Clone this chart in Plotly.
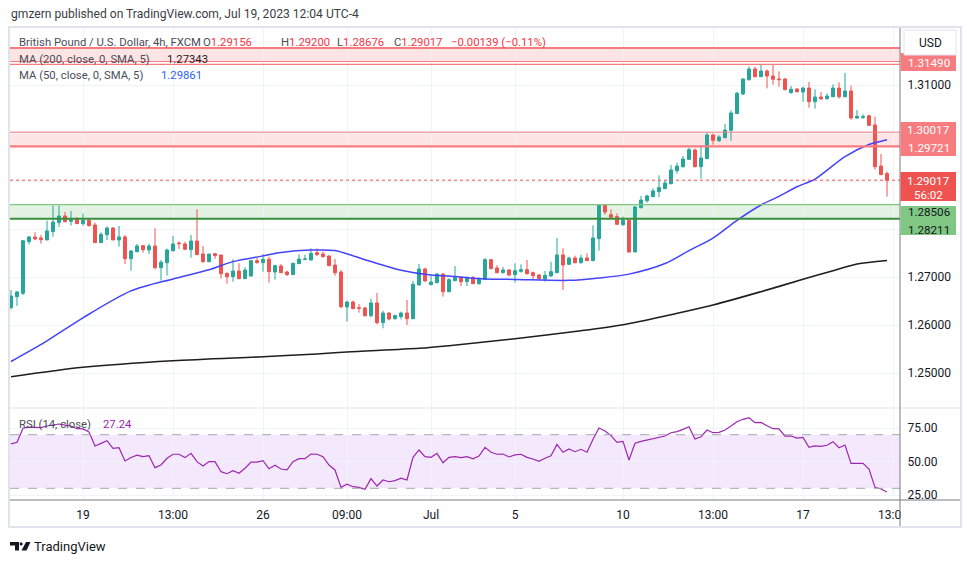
import plotly.graph_objects as go

# ---------------- data ----------------
opens = [1.26361,1.26591,1.26660,1.27736,1.27834,1.27813,1.27771,1.27945,1.28132,1.28271,
         1.28160,1.28209,1.28111,1.28181,1.28084,1.27716,1.27882,1.28021,1.27771,1.27834,
         1.27382,1.27528,1.27653,1.27563,1.27646,1.27195,1.27299,1.27549,1.27709,1.27688,
         1.27570,1.27750,1.27479,1.27320,1.27486,1.27459,1.27077,1.27007,1.27125,1.26966,
         1.27021,1.27341,1.27299,1.27368,1.27104,1.27229,1.27104,1.27049,1.27278,1.27368,
         1.27354,1.27507,1.27479,1.27438,1.27250,1.27104,1.26375,1.26479,1.26361,1.26354,
         1.26195,1.26459,1.26049,1.26250,1.26132,1.26174,1.26250,1.26132,1.26834,1.27167,
         1.26841,1.26882,1.27063,1.26695,1.26924,1.26986,1.26903,1.26986,1.26861,1.26952,
         1.27361,1.27188,1.27091,1.27146,1.27049,1.27118,1.27153,1.27091,1.27042,1.26959,
         1.27021,1.27091,1.27459,1.27264,1.27396,1.27299,1.27396,1.27341,1.27799,1.28493,
         1.28299,1.28257,1.28090,1.28181,1.27521,1.28444,1.28590,1.28674,1.28778,1.28840,
         1.28944,1.29215,1.29299,1.29451,1.29646,1.29299,1.29465,1.29958,1.29840,1.29903,
         1.30055,1.30403,1.30812,1.31111,1.31333,1.31173,1.31292,1.31187,1.31125,1.31125,
         1.30840,1.30917,1.30854,1.30937,1.30653,1.30750,1.30715,1.30757,1.30937,1.30757,
         1.30875,1.30312,1.30326,1.30361,1.30167,1.29312,1.29156]
highs = [1.26729,1.26709,1.27771,1.27854,1.27931,1.27875,1.28174,1.28486,1.28486,1.28354,
         1.28375,1.28250,1.28320,1.28209,1.28132,1.27931,1.28056,1.28035,1.28063,1.27875,
         1.27556,1.27688,1.27667,1.27688,1.28014,1.27354,1.27591,1.27854,1.27743,1.27736,
         1.27875,1.28410,1.27646,1.27479,1.27500,1.27459,1.27091,1.27368,1.27285,1.27202,
         1.27354,1.27396,1.27479,1.27424,1.27257,1.27271,1.27132,1.27299,1.27472,1.27466,
         1.27597,1.27597,1.27528,1.27452,1.27375,1.27146,1.26507,1.26507,1.26438,1.26382,
         1.26549,1.26667,1.26299,1.26264,1.26216,1.26278,1.26521,1.26917,1.27271,1.27195,
         1.27028,1.27077,1.27077,1.26973,1.27229,1.27007,1.27007,1.27021,1.26993,1.27396,
         1.27375,1.27243,1.27209,1.27167,1.27285,1.27264,1.27354,1.27111,1.27063,1.27125,
         1.27320,1.27813,1.27597,1.27424,1.27445,1.27466,1.27493,1.28077,1.28493,1.28493,
         1.28410,1.28327,1.28257,1.28201,1.28486,1.28688,1.28715,1.28847,1.29118,1.29021,
         1.29333,1.29382,1.29521,1.29694,1.29674,1.29750,1.30007,1.29986,1.29951,1.30187,
         1.30472,1.30861,1.31139,1.31389,1.31382,1.31417,1.31326,1.31417,1.31285,1.31146,
         1.30979,1.30930,1.30965,1.31062,1.30910,1.30854,1.30826,1.31014,1.31055,1.31250,
         1.30986,1.30479,1.30389,1.30375,1.30340,1.29562,1.29200]
lows = [1.26327,1.26396,1.26625,1.27674,1.27764,1.27695,1.27771,1.27841,1.28042,1.28139,
        1.28070,1.28111,1.28070,1.28049,1.27716,1.27716,1.27771,1.27771,1.27632,1.27271,
        1.27132,1.27514,1.27507,1.27479,1.27160,1.26924,1.27028,1.27528,1.27584,1.27563,
        1.27403,1.27466,1.27292,1.27306,1.27382,1.26966,1.26861,1.26903,1.26952,1.26959,
        1.27007,1.27278,1.27111,1.26882,1.26945,1.27077,1.27021,1.27049,1.27271,1.27354,
        1.27347,1.27438,1.27403,1.27222,1.27028,1.26348,1.26070,1.26327,1.26257,1.26174,
        1.26160,1.26014,1.25931,1.26098,1.26111,1.26118,1.26000,1.26118,1.26827,1.26903,
        1.26827,1.26868,1.26591,1.26681,1.26910,1.26813,1.26813,1.26861,1.26841,1.26938,
        1.27160,1.27077,1.27070,1.27014,1.26882,1.27091,1.27049,1.26938,1.26952,1.26903,
        1.27007,1.27077,1.26729,1.27250,1.27285,1.27278,1.27334,1.27334,1.27549,1.28299,
        1.28202,1.28091,1.28069,1.27507,1.27521,1.28431,1.28549,1.28667,1.28667,1.28833,
        1.28931,1.29153,1.29278,1.29437,1.29285,1.29049,1.29465,1.29757,1.29812,1.29889,
        1.29840,1.30396,1.30792,1.31090,1.31160,1.31167,1.30930,1.31007,1.30965,1.30889,
        1.30819,1.30840,1.30653,1.30528,1.30507,1.30701,1.30694,1.30743,1.30715,1.30743,
        1.30278,1.30292,1.30292,1.30146,1.29236,1.29132,1.28676]
closes = [1.26604,1.26688,1.27757,1.27834,1.27792,1.27778,1.27959,1.28146,1.28271,1.28153,
          1.28202,1.28111,1.28181,1.28070,1.27716,1.27889,1.28021,1.27771,1.27834,1.27382,
          1.27542,1.27646,1.27570,1.27646,1.27195,1.27306,1.27563,1.27688,1.27695,1.27577,
          1.27750,1.27466,1.27320,1.27479,1.27445,1.27070,1.27007,1.27125,1.26966,1.27146,
          1.27341,1.27299,1.27368,1.27111,1.27236,1.27091,1.27049,1.27285,1.27375,1.27375,
          1.27493,1.27466,1.27424,1.27236,1.27091,1.26382,1.26479,1.26341,1.26348,1.26195,
          1.26459,1.26049,1.26250,1.26125,1.26195,1.26250,1.26132,1.26847,1.27167,1.26917,
          1.26896,1.27063,1.26695,1.26945,1.26986,1.26903,1.26993,1.26861,1.26952,1.27361,
          1.27174,1.27091,1.27146,1.27042,1.27132,1.27153,1.27070,1.27028,1.26966,1.27035,
          1.27111,1.27459,1.27250,1.27396,1.27299,1.27396,1.27341,1.27813,1.28493,1.28354,
          1.28243,1.28097,1.28181,1.27521,1.28458,1.28604,1.28688,1.28792,1.28861,1.28958,
          1.29229,1.29312,1.29458,1.29653,1.29299,1.29479,1.29958,1.29847,1.29917,1.30062,
          1.30417,1.30826,1.31125,1.31333,1.31173,1.31292,1.31187,1.31118,1.31111,1.30903,
          1.30910,1.30861,1.30937,1.30653,1.30750,1.30708,1.30771,1.30937,1.30757,1.30875,
          1.30312,1.30347,1.30340,1.30160,1.29299,1.29132,1.29017]

rsi = [63.1, 64.3, 74.8, 75.7, 75.5, 75.3, 76.5, 77.5, 78.0, 77.2,
       76.5, 74.5, 74.3, 72.0, 61.6, 63.5, 65.5, 59.8, 60.3, 50.4,
       53.0, 54.7, 53.6, 54.3, 45.4, 47.4, 52.4, 55.4, 55.4, 52.9,
       56.1, 49.9, 46.6, 49.9, 49.9, 42.4, 40.9, 43.1, 41.2, 45.0,
       49.6, 49.6, 50.6, 44.6, 47.2, 44.4, 43.7, 49.9, 52.1, 52.1,
       55.6, 55.4, 53.6, 47.4, 43.7, 30.7, 33.0, 31.2, 30.7, 29.2,
       37.2, 31.7, 36.2, 34.9, 35.7, 37.5, 36.2, 53.1, 58.6, 53.6,
       53.1, 56.1, 49.1, 53.1, 53.6, 52.9, 53.6, 52.0, 54.0, 60.6,
       56.9, 55.4, 55.6, 53.4, 54.9, 55.4, 53.1, 51.9, 50.1, 52.4,
       54.3, 62.8, 56.9, 59.3, 57.3, 59.1, 56.9, 66.6, 75.0, 72.8,
       69.3, 64.3, 65.0, 51.1, 63.6, 65.0, 66.0, 66.8, 67.8, 69.0,
       71.5, 72.3, 74.0, 76.0, 66.8, 68.5, 73.5, 71.5, 71.8, 73.5,
       76.5, 79.7, 81.5, 82.7, 79.0, 79.2, 76.7, 74.5, 74.3, 69.0,
       69.0, 67.5, 68.0, 60.6, 61.6, 61.3, 62.1, 64.8, 60.3, 62.3,
       48.6, 48.6, 48.6, 44.4, 30.7, 29.5, 27.24]

ma50_idx = [0, 1, 6, 12, 20, 27, 33, 37, 42, 45, 50, 54, 59, 65, 70, 73, 79, 84, 93, 98,
            103, 109, 113, 117, 121, 125, 128, 131, 134, 139, 143, 146]
ma50_val = [1.2524, 1.2531, 1.2567, 1.2615, 1.2671, 1.2696, 1.2715, 1.2732, 1.2744, 1.2751,
            1.2756, 1.2755, 1.2736, 1.2714, 1.2704, 1.2702, 1.2696, 1.2695, 1.2693, 1.2698,
            1.2706, 1.2728, 1.2755, 1.2781, 1.2818, 1.2850, 1.2868, 1.2888, 1.2904, 1.2951,
            1.2976, 1.29861]

ma200_idx = [0, 12, 27, 42, 51, 56, 68, 73, 84, 95, 102, 109, 117, 125, 132, 137, 141, 146]
ma200_val = [1.24923, 1.25119, 1.25256, 1.25340, 1.25396, 1.25438, 1.25515, 1.25569, 1.25715,
             1.25881, 1.26006, 1.26188, 1.26417, 1.26694, 1.26952, 1.27131, 1.27270, 1.27343]

tick_idx = [12, 27, 42, 56, 70, 84, 102, 117, 132, 147]
tick_text = ["19", "13:00", "26", "09:00", "Jul", "5", "10", "13:00", "17", "13:00"]

price_ticks = [1.25, 1.26, 1.27, 1.28, 1.29, 1.30, 1.31]
price_tick_text = ["1.25000", "1.26000", "1.27000", "", "", "", "1.31000"]  # others hidden behind tags
rsi_ticks = [25, 50, 75]

# levels drawn on the chart
resist_top = [1.31771, 1.31490, 1.31431]
resist_mid = [1.30017, 1.29721]
support = [1.28506, 1.28211]
last_price = 1.29017
rsi_bounds = [30, 70]

bars = list(range(len(opens)))

# ---------------- geometry (page pixels; page body has an 8px margin) ----------------
OFF = 8
W, H = 970 - OFF, 563 - OFF
PL, PR, PT, PB = 10, 900, 28, 500
SPLIT_PX = 408
X_RANGE = [-1 / 6, -1 / 6 + (PR - PL) / 6]
Y_RANGE = [1.242708, 1.321875]
R_RANGE = [21.27, 89.93]
split = (PB - SPLIT_PX) / (PB - PT)

def px(x):
    return (x - PL) / (PR - PL)

def py(y):
    return (PB - y) / (PB - PT)

FONT = "Roboto, Arial, sans-serif"
GREEN, RED = "#26a69a", "#ef5350"
TXT = "#131722"
LBL = "#4a4d57"

fig = go.Figure()
fig.add_trace(go.Candlestick(
    x=bars, open=opens, high=highs, low=lows, close=closes,
    increasing=dict(line=dict(color=GREEN, width=1), fillcolor=GREEN),
    decreasing=dict(line=dict(color=RED, width=1), fillcolor=RED),
    whiskerwidth=0, hoverinfo="skip", xaxis="x", yaxis="y"))
fig.add_trace(go.Scatter(x=ma200_idx, y=ma200_val, mode="lines",
                         line=dict(color="#1e1e1e", width=1.6, shape="spline", smoothing=0.8),
                         hoverinfo="skip", xaxis="x", yaxis="y"))
fig.add_trace(go.Scatter(x=ma50_idx, y=ma50_val, mode="lines",
                         line=dict(color="#4343fb", width=1.5, shape="spline", smoothing=0.8),
                         hoverinfo="skip", xaxis="x", yaxis="y"))
fig.add_trace(go.Scatter(x=bars, y=rsi, mode="lines",
                         line=dict(color="#9c27b0", width=1.2),
                         hoverinfo="skip", xaxis="x", yaxis="y2"))

shapes = []
# band fills
shapes.append(dict(type="rect", xref="paper", yref="y", x0=0, x1=1, y0=resist_top[1], y1=resist_top[0],
                   fillcolor="#fde4e5", line=dict(width=0), layer="below"))
shapes.append(dict(type="rect", xref="paper", yref="y", x0=0, x1=1, y0=resist_mid[1], y1=resist_mid[0],
                   fillcolor="#fde4e5", line=dict(width=0), layer="below"))
shapes.append(dict(type="rect", xref="paper", yref="y", x0=0, x1=1, y0=support[1], y1=support[0],
                   fillcolor="#e4f2e4", line=dict(width=0), layer="below"))
shapes.append(dict(type="rect", xref="paper", yref="y2", x0=0, x1=1, y0=rsi_bounds[0], y1=rsi_bounds[1],
                   fillcolor="#f4e8fd", line=dict(width=0), layer="below"))

def hline(y, color, width, yref="y", dash="solid"):
    shapes.append(dict(type="line", xref="paper", yref=yref, x0=0, x1=1, y0=y, y1=y,
                       line=dict(color=color, width=width, dash=dash), layer="above"))
hline(resist_top[0], "#f77c80", 2)
hline(resist_top[1], "#f77c80", 1.2)
hline(resist_top[2], "#f77c80", 1.2)
hline(resist_mid[0], "#f77c80", 1)
hline(resist_mid[1], "#f77c80", 2.2)
hline(support[0], "#81c784", 1.2)
hline(support[1], "#388e3c", 2)
hline(last_price, RED, 1, dash="dot")
hline(rsi_bounds[0], "#a5a8b0", 1, yref="y2", dash="dash")
hline(rsi_bounds[1], "#a5a8b0", 1, yref="y2", dash="dash")

# pane structure
shapes.append(dict(type="line", xref="paper", yref="paper", x0=0, x1=px(960), y0=py(SPLIT_PX), y1=py(SPLIT_PX),
                   line=dict(color="#e0e3eb", width=1), layer="above"))
shapes.append(dict(type="rect", xref="paper", yref="paper", x0=px(901), x1=px(959), y0=py(526), y1=py(501),
                   fillcolor="white", line=dict(width=0), layer="above"))
shapes.append(dict(type="line", xref="paper", yref="paper", x0=0, x1=px(960), y0=0, y1=0,
                   line=dict(color="#787b86", width=1), layer="above"))
shapes.append(dict(type="line", xref="paper", yref="paper", x0=1, x1=1, y0=py(527), y1=py(27),
                   line=dict(color="#787b86", width=1), layer="above"))
shapes.append(dict(type="rect", xref="paper", yref="paper", x0=px(9), x1=px(961), y0=py(527), y1=py(27),
                   line=dict(color="#e0e3eb", width=2), fillcolor="rgba(0,0,0,0)", layer="above"))

# price tags
def tag(y0, y1, color):
    shapes.append(dict(type="rect", xref="paper", yref="paper", x0=px(900.5), x1=px(956), y0=py(y1), y1=py(y0),
                       fillcolor=color, line=dict(width=0), layer="above"))
tag(53, 71, "#f77c80")
tag(122, 156, "#f77c80")
tag(172, 201, "#ef5350")
tag(206, 235, "#81c784")
# USD button
shapes.append(dict(type="rect", xref="paper", yref="paper", x0=px(904), x1=px(956), y0=py(55), y1=py(30),
                   fillcolor="white", line=dict(color="#e0e3eb", width=1), layer="above"))

# TradingView logo glyph
def path(pts):
    return "M " + " L ".join(f"{px(a):.5f},{py(b):.5f}" for a, b in pts) + " Z"
logo = "#131722"
shapes.append(dict(type="path", xref="paper", yref="paper",
                   path=path([(10, 542), (19, 542), (19, 550.5), (15, 550.5), (15, 545.5), (10, 545.5)]),
                   fillcolor=logo, line=dict(width=0), layer="above"))
shapes.append(dict(type="circle", xref="paper", yref="paper", x0=px(19.6), x1=px(22.6), y0=py(545.5), y1=py(542.3),
                   fillcolor=logo, line=dict(width=0), layer="above"))
shapes.append(dict(type="path", xref="paper", yref="paper",
                   path=path([(26, 542), (30.5, 542), (26.5, 550.5), (21.5, 550.5)]),
                   fillcolor=logo, line=dict(width=0), layer="above"))

ann = []
def text(x, y, s, color=TXT, size=12, anchor="left"):
    ann.append(dict(xref="paper", yref="paper", x=px(x), y=py(y), text=s, showarrow=False,
                    xanchor=anchor, yanchor="middle", borderpad=0,
                    font=dict(family=FONT, size=size, color=color)))

LS = 11.3
TS = 11.6
rd = "#f23645"
text(10, 14, "gmzern published on TradingView.com, Jul 19, 2023 12:04 UTC-4", "#3b3d45", 12.1)
text(18, 42, "British Pound / U.S. Dollar, 4h, FXCM", LBL, LS)
text(202, 42, f'O<span style="color:{rd}">{opens[-1]:.5f}</span>', LBL, LS)
text(280, 42, f'H<span style="color:{rd}">{highs[-1]:.5f}</span>', LBL, LS)
text(336, 42, f'L<span style="color:{rd}">{lows[-1]:.5f}</span>', LBL, LS)
text(393, 42, f'C<span style="color:{rd}">{closes[-1]:.5f}</span>', LBL, LS)
text(450, 42, "\u22120.00139 (\u22120.11%)", rd, LS)
text(18, 59, "MA (200, close, 0, SMA, 5)", LBL, LS)
text(166, 59, f"{ma200_val[-1]:.5f}", "#1e1e1e", LS)
text(18, 76, "MA (50, close, 0, SMA, 5)", LBL, LS)
text(160, 76, f"{ma50_val[-1]:.5f}", "#2962ff", LS)
text(18, 424, "RSI (14, close)", LBL, LS)
text(102, 424, f"{rsi[-1]:.2f}", "#9c27b0", LS)

text(929, 63.5, "1.31490", "white", TS, "center")
text(929, 129.5, f"{resist_mid[0]:.5f}", "white", TS, "center")
text(929, 148, f"{resist_mid[1]:.5f}", "white", TS, "center")
text(929, 180.5, f"{last_price:.5f}", "white", TS, "center")
text(929, 194.5, "56:02", "white", TS, "center")
text(929, 212, f"{support[0]:.5f}", TXT, TS, "center")
text(929, 229.5, f"{support[1]:.5f}", TXT, TS, "center")
text(930, 43, "USD", TXT, 12, "center")
text(33, 546, "TradingView", TXT, 13)

fig.update_layout(
    width=W, height=H,
    margin=dict(l=PL - OFF, r=W - (PR - OFF), t=PT - OFF, b=H - (PB - OFF)),
    paper_bgcolor="white", plot_bgcolor="white",
    showlegend=False,
    font=dict(family=FONT, size=12, color=TXT),
    xaxis=dict(domain=[0, 1], range=X_RANGE, anchor="y2",
               tickvals=tick_idx, ticktext=tick_text,
               showgrid=True, gridcolor="#f0f3fa", gridwidth=1, zeroline=False, showline=False,
               ticks="outside", ticklen=4, tickcolor="rgba(0,0,0,0)",
               tickfont=dict(family=FONT, size=12, color=TXT),
               rangeslider=dict(visible=False), fixedrange=True),
    yaxis=dict(domain=[split, 1], range=Y_RANGE, side="right", anchor="x",
               tickvals=price_ticks, ticktext=price_tick_text,
               showgrid=True, gridcolor="#f0f3fa", zeroline=False, showline=False,
               ticks="outside", ticklen=4, tickcolor="rgba(0,0,0,0)",
               tickfont=dict(family=FONT, size=12, color=TXT), fixedrange=True),
    yaxis2=dict(domain=[0, split], range=R_RANGE, side="right", anchor="x",
                tickvals=rsi_ticks, ticktext=[f"{v:.2f}" for v in rsi_ticks],
                showgrid=True, gridcolor="#f0f3fa", zeroline=False, showline=False,
                ticks="outside", ticklen=4, tickcolor="rgba(0,0,0,0)",
                tickfont=dict(family=FONT, size=12, color=TXT), fixedrange=True),
    shapes=shapes, annotations=ann,
)

fig.write_html("out.html")
